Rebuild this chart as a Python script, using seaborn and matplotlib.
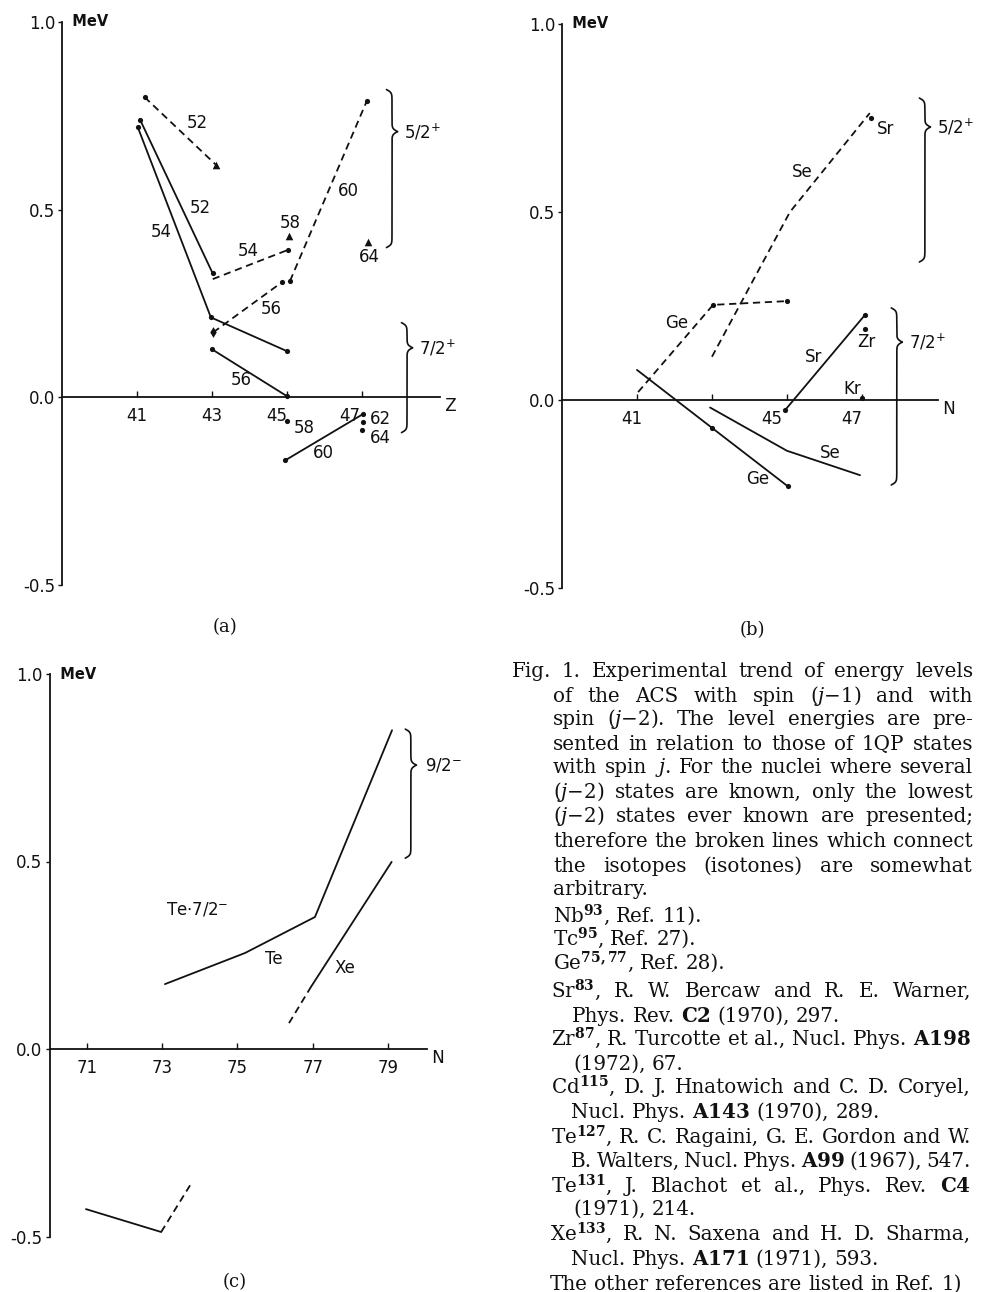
import numpy as np
import pandas as pd
import matplotlib
matplotlib.use("Agg")
import matplotlib.pyplot as plt
import matplotlib.transforms as mtrans
import seaborn as sns

sns.set_style("white")
plt.rcParams["font.family"] = ["DejaVu Sans"]
plt.rcParams["mathtext.rm"] = "DejaVu Serif"
plt.rcParams["mathtext.it"] = "DejaVu Serif:italic"
plt.rcParams["mathtext.bf"] = "DejaVu Serif:bold"

W, H = 983, 1292
INK = "#111111"

# ---------------- panel (a): energy vs Z, isotones labelled by N ----------------
a_ticks = [41, 43, 45, 47]
a_n52_dash_z, a_n52_dash_e = [41.2, 43.1], [0.80, 0.62]
a_n54_dash_z, a_n54_dash_e = [43.02, 45.03], [0.315, 0.393]
a_n56_dash_z, a_n56_dash_e = [43.03, 44.87], [0.173, 0.307]
a_n60_dash_z, a_n60_dash_e = [45.08, 47.13], [0.31, 0.79]
a_n52_solid_z, a_n52_solid_e = [41.08, 43.02], [0.74, 0.33]
a_n54_solid_z, a_n54_solid_e = [41.02, 42.97, 45.0], [0.72, 0.213, 0.123]
a_n56_solid_z, a_n56_solid_e = [43.0, 45.0], [0.128, 0.003]
a_n60_solid_z, a_n60_solid_e = [44.95, 47.02], [-0.168, -0.045]
a_dot_z = [41.2, 41.08, 43.02, 41.02, 42.97, 45.0, 45.03, 44.87, 45.08, 47.13,
           43.0, 45.0, 44.95, 47.02, 45.0, 47.02, 47.0]
a_dot_e = [0.80, 0.74, 0.33, 0.72, 0.213, 0.123, 0.393, 0.307, 0.31, 0.79,
           0.128, 0.003, -0.168, -0.045, -0.064, -0.067, -0.088]
a_tri_z, a_tri_e = [43.1, 45.05, 47.16], [0.62, 0.43, 0.414]
a_diamond_z, a_diamond_e = [43.03], [0.173]

# ---------------- panel (b): energy vs N, isotopes labelled by element ----------------
b_ticks = [41, 43, 45, 47]
b_tick_labels = ["41", "", "45", "47"]
b_ge_dash_n, b_ge_dash_e = [41.03, 43.03, 45.0], [0.021, 0.253, 0.263]
b_se_dash_n, b_se_dash_e = [43.0, 45.08, 47.21], [0.115, 0.50, 0.763]
b_sr_solid_n, b_sr_solid_e = [44.95, 47.08], [-0.027, 0.226]
b_ge_solid_n, b_ge_solid_e = [41.0, 43.0, 45.03], [0.08, -0.074, -0.23]
b_se_solid_n, b_se_solid_e = [42.95, 45.0, 46.95], [-0.02, -0.135, -0.20]
b_dot_n = [43.03, 45.0, 47.24, 44.95, 47.08, 47.0, 47.08, 43.0, 45.03]
b_dot_e = [0.253, 0.263, 0.75, -0.027, 0.226, 0.005, 0.19, -0.074, -0.23]

# ---------------- panel (c): energy vs N for Te and Xe ----------------
c_ticks = [71, 73, 75, 77, 79]
c_te_n, c_te_e = [73.07, 75.2, 77.06, 79.11], [0.173, 0.256, 0.352, 0.85]
c_xe_dash_n, c_xe_dash_e = [76.37, 76.95], [0.069, 0.165]
c_xe_solid_n, c_xe_solid_e = [76.95, 79.1], [0.165, 0.499]
c_low_solid_n, c_low_solid_e = [70.97, 72.97], [-0.427, -0.488]
c_low_dash_n, c_low_dash_e = [72.97, 73.76], [-0.488, -0.36]

# spin groups: (axis position, top, tip, bottom, label)
a_groups = [(47.8, 0.82, 0.708, 0.399, "5/2$^{+}$"), (48.2, 0.199, 0.132, -0.094, "7/2$^{+}$")]
b_groups = [(48.68, 0.803, 0.726, 0.367, "5/2$^{+}$"), (47.93, 0.245, 0.154, -0.226, "7/2$^{+}$")]
c_groups = [(79.61, 0.853, 0.757, 0.509, "9/2$^{-}$")]

fig = plt.figure(figsize=(W / 100, H / 100), dpi=100)


def frame(segs):
    rows = []
    for i, (xs, ys, kind) in enumerate(segs):
        for x, y in zip(xs, ys):
            rows.append({"x": x, "y": y, "seg": i, "kind": kind})
    return pd.DataFrame(rows)


def make_axes(x0, x1, ytop, ybot, xlim, ticks, labels, xname, shifts=None):
    ax = fig.add_axes([x0 / W, 1 - ybot / H, (x1 - x0) / W, (ybot - ytop) / H])
    ax.patch.set_visible(False)
    ax.set_xlim(*xlim)
    ax.set_ylim(-0.5, 1.0)
    for s in ("top", "right"):
        ax.spines[s].set_visible(False)
    ax.spines["bottom"].set_position(("data", 0))
    for s in ("left", "bottom"):
        ax.spines[s].set_linewidth(1.3)
        ax.spines[s].set_color(INK)
    ax.set_yticks([1.0, 0.5, 0.0, -0.5])
    ax.set_yticklabels(["1.0", "0.5", "0.0", "-0.5"])
    ax.set_xticks(ticks)
    ax.set_xticklabels(labels)
    ax.tick_params(axis="y", direction="out", length=3, width=1, pad=2,
                   labelsize=12, colors=INK, left=True)
    ax.tick_params(axis="x", direction="in", length=4, width=1, pad=7,
                   labelsize=12, colors=INK, bottom=True)
    if shifts:
        for lab, dx in zip(ax.get_xticklabels(), shifts):
            lab.set_transform(lab.get_transform() +
                              mtrans.ScaledTranslation(dx / 100, 0, fig.dpi_scale_trans))
    ax.set_xlabel("")
    ax.set_ylabel("")
    ax.text(xlim[0], 1.0, "  MeV", fontsize=10.5, fontweight="bold", va="center",
            ha="left", color=INK)
    ax.text(xlim[1], 0, " " + xname, fontsize=12, va="top", ha="left", color=INK)
    return ax


def draw_lines(ax, segs):
    df = frame(segs)
    sns.lineplot(data=df, x="x", y="y", units="seg", style="kind",
                 dashes={"solid": "", "dashed": (4, 2.6)}, estimator=None,
                 sort=False, color=INK, lw=1.3, legend=False, ax=ax)
    ax.set_xlabel("")
    ax.set_ylabel("")


def draw_groups(ax, groups, pxx, pxy, label_dx):
    w, s = 11.0, 3.0
    for xl, top, tip, bot, lab in groups:
        for a in (top, bot):
            L = abs(a - tip) * pxy
            d = np.linspace(0, L, 300)
            off = (w / 2) * np.tanh(d / s) + (w / 2) * (1 - np.tanh((L - d) / s))
            xs = xl + (off - w / 2) / pxx
            ys = a - np.sign(a - tip) * d / pxy
            ax.plot(xs, ys, color=INK, lw=1.2, clip_on=False)
        ax.text(xl + label_dx / pxx, tip, lab, fontsize=12, ha="left", va="center",
                color=INK)


def label(ax, x, y, s, **kw):
    ax.text(x, y, s, fontsize=12, ha="center", va="center", color=INK, **kw)


# ---- panel (a)
axa = make_axes(62, 440, 22, 585, (39, 49.08), a_ticks, [str(t) for t in a_ticks], "Z",
                shifts=[0, 0, -10, -12])
draw_lines(axa, [
    (a_n52_dash_z, a_n52_dash_e, "dashed"),
    (a_n54_dash_z, a_n54_dash_e, "dashed"),
    (a_n56_dash_z, a_n56_dash_e, "dashed"),
    (a_n60_dash_z, a_n60_dash_e, "dashed"),
    (a_n52_solid_z, a_n52_solid_e, "solid"),
    (a_n54_solid_z, a_n54_solid_e, "solid"),
    (a_n56_solid_z, a_n56_solid_e, "solid"),
    (a_n60_solid_z, a_n60_solid_e, "solid"),
])
sns.scatterplot(x=a_dot_z, y=a_dot_e, ax=axa, color=INK, s=14, linewidth=0, legend=False)
sns.scatterplot(x=a_tri_z, y=a_tri_e, ax=axa, color=INK, marker="^", s=30, linewidth=0,
                legend=False)
sns.scatterplot(x=a_diamond_z, y=a_diamond_e, ax=axa, color=INK, marker="d", s=30,
                linewidth=0, legend=False)
draw_groups(axa, a_groups, 37.5, 375.3, 12)
for x, y, s in [(42.6, 0.73, "52"), (42.7, 0.505, "52"), (41.64, 0.44, "54"),
                (43.96, 0.39, "54"), (45.08, 0.465, "58"), (46.63, 0.55, "60"),
                (47.2, 0.375, "64"), (44.57, 0.235, "56"), (43.77, 0.045, "56"),
                (45.45, -0.082, "58"), (45.97, -0.147, "60"), (47.48, -0.058, "62"),
                (47.48, -0.108, "64")]:
    label(axa, x, y, s)

# ---- panel (b)
axb = make_axes(562, 938, 24, 588, (39, 49.03), b_ticks, b_tick_labels, "N",
                shifts=[-5, 0, -15, -10])
draw_lines(axb, [
    (b_ge_dash_n, b_ge_dash_e, "dashed"),
    (b_se_dash_n, b_se_dash_e, "dashed"),
    (b_sr_solid_n, b_sr_solid_e, "solid"),
    (b_ge_solid_n, b_ge_solid_e, "solid"),
    (b_se_solid_n, b_se_solid_e, "solid"),
])
sns.scatterplot(x=b_dot_n, y=b_dot_e, ax=axb, color=INK, s=14, linewidth=0, legend=False)
draw_groups(axb, b_groups, 37.5, 376.0, 12)
for x, y, s in [(45.4, 0.606, "Se"), (47.62, 0.72, "Sr"), (42.07, 0.205, "Ge"),
                (45.7, 0.115, "Sr"), (47.12, 0.155, "Zr"), (46.73, 0.03, "Kr"),
                (46.15, -0.14, "Se"), (44.23, -0.21, "Ge")]:
    label(axb, x, y, s)

# ---- panel (c)
axc = make_axes(49.5, 427, 674, 1236.5, (70, 80.04), c_ticks, [str(t) for t in c_ticks], "N")
draw_lines(axc, [
    (c_te_n, c_te_e, "solid"),
    (c_xe_dash_n, c_xe_dash_e, "dashed"),
    (c_xe_solid_n, c_xe_solid_e, "solid"),
    (c_low_solid_n, c_low_solid_e, "solid"),
    (c_low_dash_n, c_low_dash_e, "dashed"),
])
draw_groups(axc, c_groups, 37.6, 375.0, 14)
label(axc, 73.92, 0.372, "Te$\\cdot$7/2$^{-}$")
label(axc, 75.97, 0.24, "Te")
label(axc, 77.86, 0.215, "Xe")

# panel captions
for x, y, s in [(225, 627, "(a)"), (752, 630, "(b)"), (235, 1282, "(c)")]:
    fig.text(x / W, 1 - y / H, s, family="DejaVu Serif", fontsize=13,
             ha="center", va="center", color=INK)

# ---------------- figure legend text, justified word by word ----------------
caption = [
    (512, 973, 677, "Fig. 1.  Experimental trend of energy levels", True),
    (553, 973, 702, "of the ACS with spin ($j$−1) and with", True),
    (553, 973, 725, "spin ($j$−2).  The level energies are pre-", True),
    (553, 973, 750, "sented in relation to those of 1QP states", True),
    (553, 973, 773, "with spin $j$.  For the nuclei where several", True),
    (553, 973, 798, "($j$−2) states are known, only the lowest", True),
    (553, 973, 822, "($j$−2) states ever known are presented;", True),
    (553, 973, 847, "therefore the broken lines which connect", True),
    (553, 973, 872, "the isotopes (isotones) are somewhat", True),
    (553, 973, 895, "arbitrary.", False),
    (553, 973, 922, r"Nb$^{\mathbf{93}}$, Ref. 11).", False),
    (553, 973, 945, r"Tc$^{\mathbf{95}}$, Ref. 27).", False),
    (553, 973, 969, r"Ge$^{\mathbf{75,77}}$, Ref. 28).", False),
    (551, 971, 997, r"Sr$^{\mathbf{83}}$, R. W. Bercaw and R. E. Warner,", True),
    (572, 971, 1022, r"Phys. Rev. $\mathbf{C2}$  (1970), 297.", False),
    (551, 971, 1045, r"Zr$^{\mathbf{87}}$, R. Turcotte et al., Nucl. Phys. $\mathbf{A198}$", True),
    (573, 971, 1070, "(1972), 67.", False),
    (551, 971, 1093, r"Cd$^{\mathbf{115}}$, D. J. Hnatowich and C. D. Coryel,", True),
    (571, 971, 1118, r"Nucl. Phys. $\mathbf{A143}$  (1970), 289.", False),
    (551, 971, 1143, r"Te$^{\mathbf{127}}$, R. C. Ragaini, G. E. Gordon and W.", True),
    (571, 971, 1167, r"B. Walters, Nucl. Phys. $\mathbf{A99}$ (1967), 547.", True),
    (551, 971, 1192, r"Te$^{\mathbf{131}}$, J. Blachot et al., Phys. Rev. $\mathbf{C4}$", True),
    (573, 971, 1215, "(1971), 214.", False),
    (550, 971, 1240, r"Xe$^{\mathbf{133}}$, R. N. Saxena and H. D. Sharma,", True),
    (571, 971, 1265, r"Nucl. Phys. $\mathbf{A171}$  (1971), 593.", False),
    (550, 962, 1290, "The other references are listed in Ref. 1)", True),
]

renderer = fig.canvas.get_renderer()
FS = 14.3
space = 0.32 * FS * 100 / 72
for x0, x1, yb, line, just in caption:
    words = line.split()
    texts = [fig.text(0, 1 - yb / H, w, family="DejaVu Serif", fontsize=FS,
                      va="baseline", ha="left", color=INK, math_fontfamily="custom")
             for w in words]
    widths = [t.get_window_extent(renderer).width for t in texts]
    if just and len(words) > 1:
        gap = (x1 - x0 - sum(widths)) / (len(words) - 1)
    else:
        gap = space
    x = x0
    for t, w in zip(texts, widths):
        t.set_x(x / W)
        x += w + gap

fig.savefig("out.png", dpi=100)
